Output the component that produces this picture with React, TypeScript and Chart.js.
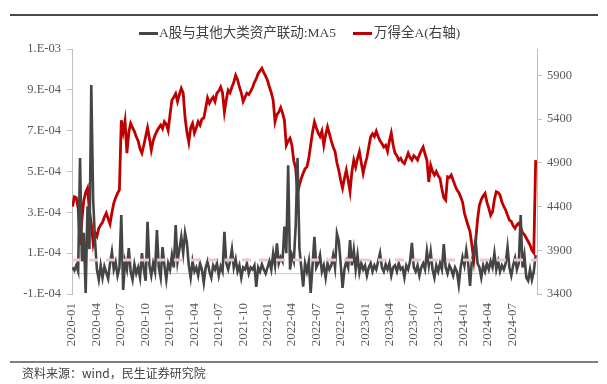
import React, { useEffect, useRef } from "react";
import { Chart, registerables } from "chart.js";

Chart.register(...registerables);

// ---- data ----
const FIRST_WEEK = "2020-01-03"; // weekly observations, every 7 days from this date
const AXIS_START = "2020-01-01";
const AXIS_END = "2024-10-01";

const quarterLabels = [
  "2020-01", "2020-04", "2020-07", "2020-10",
  "2021-01", "2021-04", "2021-07", "2021-10",
  "2022-01", "2022-04", "2022-07", "2022-10",
  "2023-01", "2023-04", "2023-07", "2023-10",
  "2024-01", "2024-04", "2024-07",
];

const leftTickValues = [-1, 1, 3, 5, 7, 9, 11]; // unit: 1E-04
const leftTickLabels = ["-1.E-04", "1.E-04", "3.E-04", "5.E-04", "7.E-04", "9.E-04", "1.E-03"];
const rightTickValues = [3400, 3900, 4400, 4900, 5400, 5900];

// A股与其他大类资产联动:MA5 (unit 1E-04), weekly
const linkageMA5 = [
  0.3, 0.15, 0.4, 0.1, 5.66, 0.6, 2.0, -0.95, 3.3, 1.2,
  9.24, 3.6, 1.6, 0.2, -0.3, 0.4, -0.2, 0.35, 0.05, -0.25,
  0.5, 1.07, 0.2, 0.55, -0.1, 0.3, 2.87, -0.8, 0.6, 0.2,
  1.25, 0.1, -0.3, 0.45, 0.0, 0.3, -0.2, 1.0, 0.2, -0.35,
  2.54, 0.4, -0.1, 0.5, 0.1, 2.13, 0.3, -0.2, 1.3, 0.4,
  -0.3, 0.5, 0.2, 0.9, 0.3, 2.38, 0.6, 1.2, 1.8, 1.0,
  2.0, 1.5, 0.4, -0.2, 0.6, 0.1, 0.3, -0.1, 0.5, 0.2,
  -0.45, 0.3, 0.6, 0.1, -0.2, 0.4, 0.2, 0.5, -0.1, 0.35,
  0.1, 2.05, 0.5, 0.2, 0.6, 1.2, 0.3, 0.7, 0.1, 0.4,
  -0.2, 0.3, 0.2, 0.5, 0.0, 0.3, 0.2, 0.4, -0.65, 0.3,
  0.1, 0.45, 0.2, 0.0, 0.3, 0.6, 0.2, 0.99, 0.4, 1.48,
  0.5, 0.8, 0.6, 2.3, 1.0, 5.3, 0.2, 0.9, 0.6, 2.3,
  5.66, 1.25, 0.3, -0.64, 0.5, 0.1, 0.6, -0.95, 0.4, 1.8,
  0.3, 0.5, 0.9, 0.1, 0.4, -0.2, 0.5, 0.2, 0.4, 0.9,
  0.3, 1.97, 1.6, 0.5, -0.7, 0.2, 0.6, 0.3, 1.64, 0.4,
  1.15, 0.2, 0.9, 0.05, 0.5, 0.2, 0.4, -0.1, 0.3, 0.5,
  0.1, 0.4, 0.2, 0.6, 1.0, 0.3, 0.1, 0.45, 0.2, 0.5,
  -0.1, 0.3, 0.4, 0.1, 0.5, 0.2, 0.3, -0.2, 0.4, 0.2,
  0.6, 1.5, 0.3, 0.1, 0.4, -0.1, 0.3, 0.5, 0.2, 1.1,
  0.4, 1.07, 0.2, -0.2, 0.4, 0.1, 0.5, 0.2, 1.45, 0.3,
  0.0, 0.4, 0.2, -0.1, 0.3, 0.1, -0.56, 0.3, 0.8, 0.4,
  1.15, 0.5, -0.6, 0.67, 1.0, 1.64, 0.5, 0.3, -0.2, 0.4,
  0.1, 0.5, 0.2, 0.6, 0.3, 1.0, 0.2, 0.6, 0.1, 0.4,
  0.2, 0.5, 1.3, 0.3, -0.1, 0.4, 0.76, 0.2, 0.5, 2.87,
  0.3, 0.9, -0.2, -0.35, 0.2, -0.3, 0.1, 0.9,
];

// 万得全A (right axis), weekly
const windAllA = [
  4400, 4510, 4500, 4380, 3960, 4250, 4470, 4560, 4610, 4350,
  4200, 3980, 4100, 4060, 4150, 4190, 4220, 4280, 4325, 4260,
  4200, 4330, 4440, 4500, 4550, 4590, 5386, 5250, 5380, 5010,
  5250, 5350, 5300, 5260, 5196, 5150, 5060, 5010, 5100, 5200,
  5300, 5180, 5044, 5150, 5215, 5260, 5300, 5330, 5290, 5370,
  5340, 5270, 5450, 5615, 5650, 5690, 5600, 5680, 5750, 5700,
  5420, 5250, 5135, 5300, 5350, 5240, 5300, 5370, 5330, 5400,
  5410, 5520, 5640, 5580, 5620, 5650, 5600, 5695, 5720, 5766,
  5700, 5480, 5620, 5730, 5700, 5766, 5820, 5900, 5850, 5766,
  5700, 5600, 5650, 5695, 5680, 5715, 5760, 5820, 5860, 5920,
  5950, 5980, 5930, 5890, 5840, 5766, 5700, 5615, 5370, 5450,
  5480, 5530, 5470, 5385, 5100, 5150, 5180, 5100, 4920, 4840,
  4553, 4650, 4720, 4780, 4830, 4853, 4950, 5100, 5250, 5367,
  5300, 5240, 5200, 5260, 5100, 5220, 5310, 5230, 5150, 5080,
  5030, 4900, 4815, 4700, 4610, 4720, 4815, 4700, 4570, 4800,
  4930, 4850, 4950, 5025, 4900, 4780, 4880, 4960, 5080, 5196,
  5230, 5200, 5260, 5200, 5150, 5120, 5080, 5100, 5030, 5150,
  5240, 5100, 5010, 4980, 4930, 4950, 4910, 4890, 4950, 5010,
  4960, 4930, 4980, 4960, 4930, 4990, 5040, 5080, 5000, 4930,
  4680, 4870, 4800, 4760, 4800, 4750, 4720, 4600, 4500, 4473,
  4740, 4730, 4760, 4700, 4640, 4590, 4560, 4510, 4450, 4325,
  4250, 4180, 4112, 3960, 3788, 4000, 4250, 4415, 4480, 4520,
  4550, 4450, 4380, 4300, 4340, 4480, 4570, 4560, 4530, 4450,
  4400, 4360, 4300, 4245, 4230, 4180, 4150, 4190, 4210, 4160,
  4100, 4080, 4040, 4000, 3960, 3900, 3870, 4930,
];

const meanLevel = 0.67; // dashed reference line, unit 1E-04

// ---- helpers ----
const DAY = 86400000;
const dayOf = (iso: string) => (Date.parse(iso) - Date.parse(AXIS_START)) / DAY;
const weekX = (i: number) => dayOf(FIRST_WEEK) + 7 * i;
const xMin = 0;
const xMax = dayOf(AXIS_END) + 1;

const SERIF = "'Liberation Serif', 'Times New Roman', 'Noto Sans CJK SC', serif";
const LABEL_COLOR = "#595959";
const AXIS_COLOR = "#bfbfbf";

const legendItems = [
  { label: "A股与其他大类资产联动:MA5", color: "#454545", lineLeft: 139, textLeft: 159 },
  { label: "万得全A(右轴)", color: "#C00000", lineLeft: 353, textLeft: 374 },
];

export default function App() {
  const ref = useRef<HTMLCanvasElement | null>(null);

  useEffect(() => {
    if (!ref.current) return;
    const chart = new Chart(ref.current, {
      type: "line",
      data: {
        datasets: [
          {
            label: "mean",
            data: [{ x: xMin, y: meanLevel }, { x: xMax, y: meanLevel }],
            borderColor: "#efc7c7",
            borderWidth: 3,
            borderDash: [9, 8],
            pointRadius: 0,
            yAxisID: "y",
          },
          {
            label: legendItems[0].label,
            data: linkageMA5.map((v, i) => ({ x: weekX(i), y: v })),
            borderColor: legendItems[0].color,
            borderWidth: 2.6,
            pointRadius: 0,
            tension: 0,
            yAxisID: "y",
          },
          {
            label: legendItems[1].label,
            data: windAllA.map((v, i) => ({ x: weekX(i), y: v })),
            borderColor: legendItems[1].color,
            borderWidth: 2.8,
            pointRadius: 0,
            tension: 0,
            yAxisID: "y1",
          },
          {
            label: "zero",
            data: [{ x: xMin, y: 0 }, { x: xMax, y: 0 }],
            borderColor: "#c8c8c8",
            borderWidth: 1,
            pointRadius: 0,
            yAxisID: "y",
          },
        ],
      },
      options: {
        animation: false,
        responsive: false,
        maintainAspectRatio: false,
        layout: { padding: { top: 49, left: 0, right: 0, bottom: 0 } },
        plugins: { legend: { display: false }, tooltip: { enabled: false } },
        scales: {
          x: {
            type: "linear",
            min: xMin,
            max: xMax,
            afterBuildTicks: (s: any) => {
              s.ticks = quarterLabels.map((l) => ({ value: dayOf(l + "-01") }));
            },
            afterFit: (s: any) => {
              s.height = 90;
            },
            grid: { display: false, drawTicks: false },
            border: { display: false },
            ticks: {
              autoSkip: false,
              maxRotation: 90,
              minRotation: 90,
              padding: 9,
              color: LABEL_COLOR,
              font: { family: SERIF, size: 13 },
              callback: (_v: any, i: number) => quarterLabels[i],
            },
          },
          y: {
            position: "left",
            min: -1,
            max: 11,
            afterBuildTicks: (s: any) => {
              s.ticks = leftTickValues.map((v) => ({ value: v }));
            },
            afterFit: (s: any) => {
              s.width = 72;
            },
            grid: { drawOnChartArea: false, drawTicks: true, tickLength: 5, color: AXIS_COLOR },
            border: { display: true, color: AXIS_COLOR },
            ticks: {
              padding: 6,
              color: LABEL_COLOR,
              font: { family: SERIF, size: 12.5 },
              callback: (_v: any, i: number) => leftTickLabels[i],
            },
          },
          y1: {
            position: "right",
            min: 3400,
            max: 6200,
            afterBuildTicks: (s: any) => {
              s.ticks = rightTickValues.map((v) => ({ value: v }));
            },
            afterFit: (s: any) => {
              s.width = 70;
            },
            grid: { drawOnChartArea: false, drawTicks: true, tickLength: 5, color: AXIS_COLOR },
            border: { display: true, color: AXIS_COLOR },
            ticks: {
              padding: 5,
              color: LABEL_COLOR,
              font: { family: SERIF, size: 12.5 },
              callback: (v: any) => String(v),
            },
          },
        },
      },
    });
    return () => chart.destroy();
  }, []);

  return (
    <div style={{ position: "fixed", left: 0, top: 0, width: 607, height: 384, background: "#fff", overflow: "hidden" }}>
      <div style={{ position: "absolute", left: 10, top: 14, width: 588, height: 2, background: "#4a4a4a" }} />
      <canvas ref={ref} width={607} height={384} style={{ position: "absolute", left: 0, top: 0, width: 607, height: 384, display: "block" }} />
      {legendItems.map((it) => (
        <React.Fragment key={it.label}>
          <div style={{ position: "absolute", left: it.lineLeft, top: 32, width: 19, height: 3, background: it.color }} />
          <div
            style={{
              position: "absolute",
              left: it.textLeft,
              top: 24,
              fontFamily: SERIF,
              fontSize: 13.5,
              lineHeight: "18px",
              color: "#404040",
              whiteSpace: "nowrap",
            }}
          >
            {it.label}
          </div>
        </React.Fragment>
      ))}
      <div style={{ position: "absolute", left: 10, top: 361, width: 588, height: 1.5, background: "#7f7f7f" }} />
      <div
        style={{
          position: "absolute",
          left: 22,
          top: 365,
          fontFamily: "'Noto Sans CJK SC', 'Noto Sans', sans-serif",
          fontSize: 12,
          lineHeight: "16px",
          color: "#404040",
          whiteSpace: "nowrap",
        }}
      >
        资料来源：wind，民生证券研究院
      </div>
    </div>
  );
}
